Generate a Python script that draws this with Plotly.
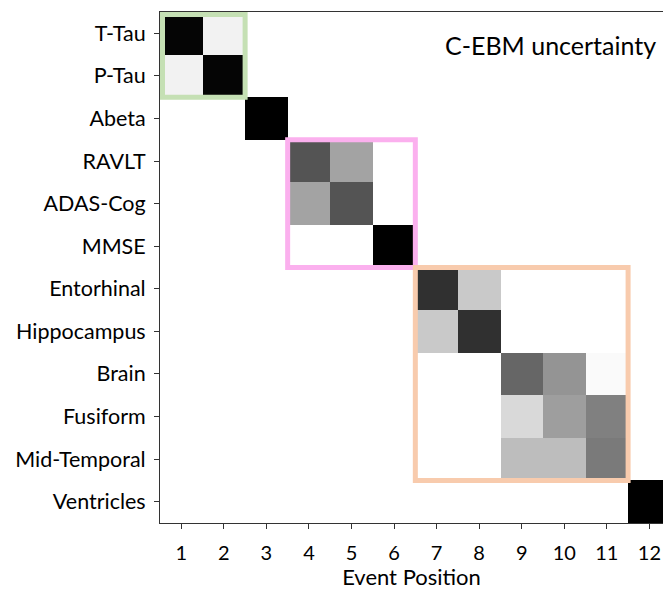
import plotly.graph_objects as go

# ---- data ----
biomarkers = ["T-Tau", "P-Tau", "Abeta", "RAVLT", "ADAS-Cog", "MMSE",
              "Entorhinal", "Hippocampus", "Brain", "Fusiform",
              "Mid-Temporal", "Ventricles"]
positions = [1, 2, 3, 4, 5, 6, 7, 8, 9, 10, 11, 12]

# probability of each biomarker (row) at each event position (column)
t_tau        = [0.98, 0.05, 0, 0, 0, 0, 0, 0, 0, 0, 0, 0]
p_tau        = [0.05, 0.98, 0, 0, 0, 0, 0, 0, 0, 0, 0, 0]
abeta        = [0, 0, 1.0, 0, 0, 0, 0, 0, 0, 0, 0, 0]
ravlt        = [0, 0, 0, 0.67, 0.36, 0, 0, 0, 0, 0, 0, 0]
adas_cog     = [0, 0, 0, 0.36, 0.67, 0, 0, 0, 0, 0, 0, 0]
mmse         = [0, 0, 0, 0, 0, 1.0, 0, 0, 0, 0, 0, 0]
entorhinal   = [0, 0, 0, 0, 0, 0, 0.81, 0.21, 0, 0, 0, 0]
hippocampus  = [0, 0, 0, 0, 0, 0, 0.21, 0.81, 0, 0, 0, 0]
brain        = [0, 0, 0, 0, 0, 0, 0, 0, 0.60, 0.42, 0.02, 0]
fusiform     = [0, 0, 0, 0, 0, 0, 0, 0, 0.15, 0.38, 0.50, 0]
mid_temporal = [0, 0, 0, 0, 0, 0, 0, 0, 0.26, 0.26, 0.52, 0]
ventricles   = [0, 0, 0, 0, 0, 0, 0, 0, 0, 0, 0, 1.0]

z = [t_tau, p_tau, abeta, ravlt, adas_cog, mmse, entorhinal, hippocampus,
     brain, fusiform, mid_temporal, ventricles]

# highlighted groups: (first position, last position, first row, last row, colour)
groups = [
    (1, 2, 0, 1, "#c5e0b4"),
    (4, 6, 3, 5, "#fbb0ee"),
    (7, 11, 6, 10, "#f8cbad"),
]

title_text = "C-EBM uncertainty"
x_title = "Event Position"

FONT = "Lato"

fig = go.Figure()
fig.add_trace(go.Heatmap(
    z=z, x=positions, y=list(range(len(biomarkers))),
    colorscale=[[0, "#ffffff"], [1, "#000000"]],
    zmin=0, zmax=1, showscale=False, xgap=0, ygap=0,
))

lw = 5
cell_px = 42.55
pad = (lw / 2) / cell_px
for c0, c1, r0, r1, col in groups:
    x0 = c0 - 0.5
    y0 = r0 - 0.5
    if x0 <= 0.5:
        x0 = 0.5 + pad
    if y0 <= -0.5:
        y0 = -0.5 + pad
    fig.add_shape(type="rect", xref="x", yref="y",
                  x0=x0, x1=c1 + 0.5, y0=y0, y1=r1 + 0.5,
                  line=dict(color=col, width=lw), fillcolor="rgba(0,0,0,0)",
                  layer="above")

fig.add_annotation(text=title_text, xref="paper", yref="paper",
                   x=0.99, y=0.935, xanchor="right", yanchor="middle",
                   showarrow=False, font=dict(family=FONT, size=25, color="black"))

fig.update_layout(
    width=663, height=590,
    margin=dict(l=160, r=0, t=12, b=67),
    paper_bgcolor="white", plot_bgcolor="white",
    font=dict(family=FONT, color="black"),
    xaxis=dict(
        range=[0.5, 12.32], tickmode="array", tickvals=positions,
        ticktext=[str(p) for p in positions],
        showline=True, linecolor="#333333", linewidth=1, mirror=True,
        ticks="outside", ticklen=5, tickcolor="#333333",
        tickfont=dict(family=FONT, size=20, color="black"),
        ticklabelstandoff=7,
        showgrid=False, zeroline=False,
        title=dict(text=x_title, font=dict(family=FONT, size=22, color="black"), standoff=4),
    ),
    yaxis=dict(
        range=[11.5, -0.5], tickmode="array",
        tickvals=list(range(len(biomarkers))), ticktext=biomarkers,
        showline=True, linecolor="#333333", linewidth=1,
        ticks="outside", ticklen=5, tickcolor="#333333",
        tickfont=dict(family=FONT, size=21.5, color="black"),
        ticklabelstandoff=4,
        showgrid=False, zeroline=False,
    ),
)

fig.write_html("out.html")
